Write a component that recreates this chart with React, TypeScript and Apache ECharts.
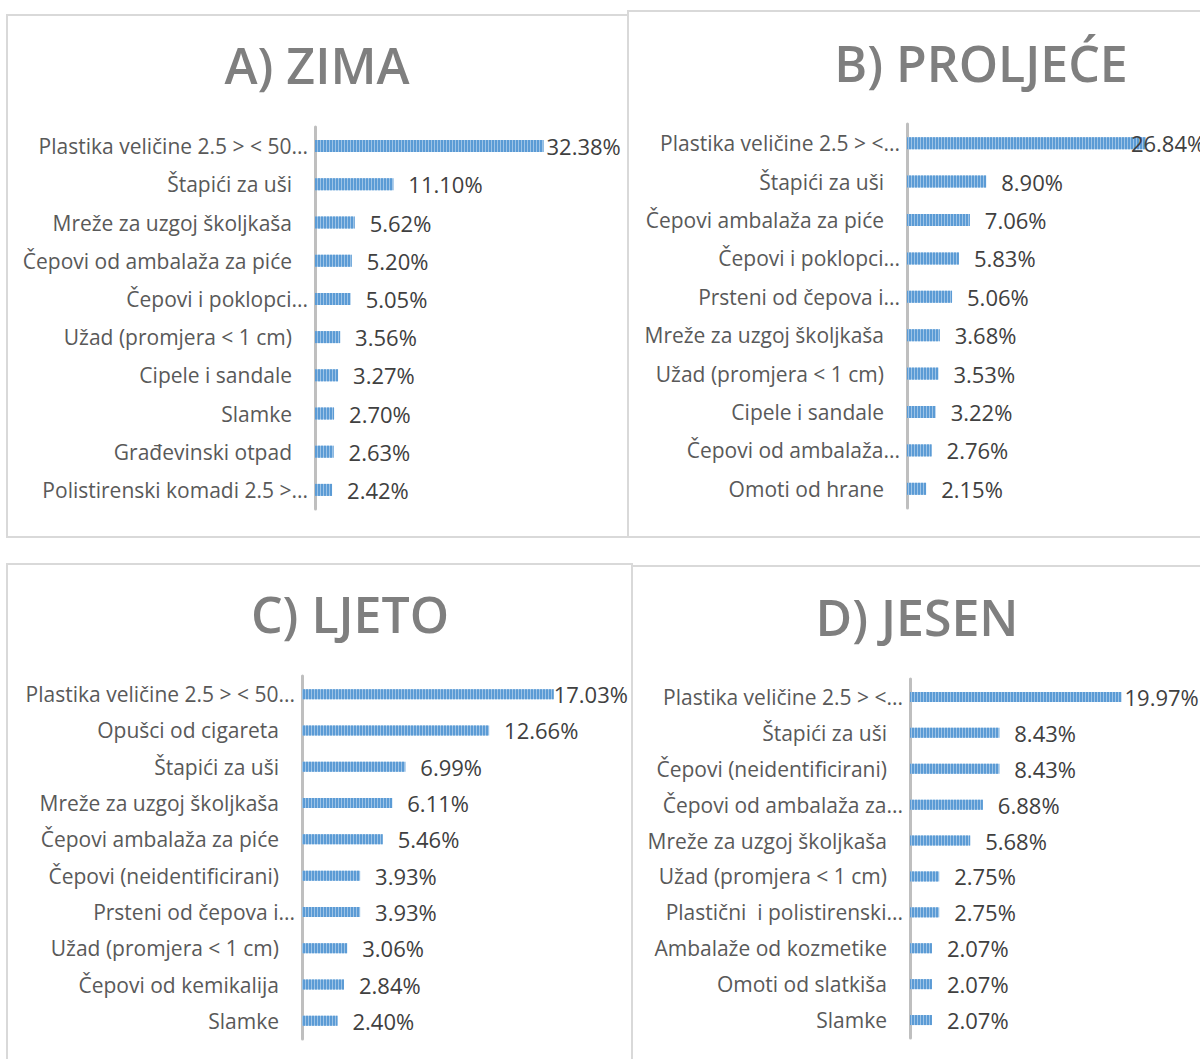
import React, { useEffect, useRef } from "react";
import * as echarts from "echarts";

const titles = ["A) ZIMA", "B) PROLJEĆE", "C) LJETO", "D) JESEN"];

const catsA = [
  "Plastika veličine 2.5 > < 50...",
  "Štapići za uši",
  "Mreže za uzgoj školjkaša",
  "Čepovi od ambalaža za piće",
  "Čepovi i poklopci...",
  "Užad (promjera < 1 cm)",
  "Cipele i sandale",
  "Slamke",
  "Građevinski otpad",
  "Polistirenski komadi 2.5 >...",
];
const valsA = [32.38, 11.1, 5.62, 5.2, 5.05, 3.56, 3.27, 2.7, 2.63, 2.42];

const catsB = [
  "Plastika veličine 2.5 > <...",
  "Štapići za uši",
  "Čepovi ambalaža za piće",
  "Čepovi i poklopci...",
  "Prsteni od čepova i...",
  "Mreže za uzgoj školjkaša",
  "Užad (promjera < 1 cm)",
  "Cipele i sandale",
  "Čepovi od ambalaža...",
  "Omoti od hrane",
];
const valsB = [26.84, 8.9, 7.06, 5.83, 5.06, 3.68, 3.53, 3.22, 2.76, 2.15];

const catsC = [
  "Plastika veličine 2.5 > < 50...",
  "Opušci od cigareta",
  "Štapići za uši",
  "Mreže za uzgoj školjkaša",
  "Čepovi ambalaža za piće",
  "Čepovi (neidentificirani)",
  "Prsteni od čepova i...",
  "Užad (promjera < 1 cm)",
  "Čepovi od kemikalija",
  "Slamke",
];
const valsC = [17.03, 12.66, 6.99, 6.11, 5.46, 3.93, 3.93, 3.06, 2.84, 2.4];

const catsD = [
  "Plastika veličine 2.5 > <...",
  "Štapići za uši",
  "Čepovi (neidentificirani)",
  "Čepovi od ambalaža za...",
  "Mreže za uzgoj školjkaša",
  "Užad (promjera < 1 cm)",
  "Plastični  i polistirenski...",
  "Ambalaže od kozmetike",
  "Omoti od slatkiša",
  "Slamke",
];
const valsD = [19.97, 8.43, 8.43, 6.88, 5.68, 2.75, 2.75, 2.07, 2.07, 2.07];

const FONT = "Open Sans";

export default function App() {
  const ref = useRef<HTMLDivElement>(null);
  useEffect(() => {
    if (!ref.current) return;
    const chart = echarts.init(ref.current, null, { renderer: "svg" });

    const panels = [
      { cats: catsA, vals: valsA, grid: { left: 315, top: 127, height: 382, width: 247 }, max: 35, bw: 12, firstDist: 3, title: { x: 317, y: 65 } },
      { cats: catsB, vals: valsB, grid: { left: 907, top: 124, height: 384, width: 267 }, max: 30, bw: 12, firstDist: -15, title: { x: 981, y: 63 } },
      { cats: catsC, vals: valsC, grid: { left: 302, top: 676, height: 363, width: 266 }, max: 18, bw: 10, firstDist: 0, title: { x: 350, y: 614 } },
      { cats: catsD, vals: valsD, grid: { left: 910, top: 679, height: 359, width: 233 }, max: 22, bw: 10, firstDist: 3, title: { x: 917, y: 617 } },
    ];

    const labelStyle = { color: "#595959", fontSize: 21, fontFamily: FONT };

    const option: any = {
      animation: false,
      backgroundColor: "#ffffff",
      grid: panels.map((p) => ({ ...p.grid, containLabel: false })),
      xAxis: panels.map((p, i) => ({
        type: "value",
        gridIndex: i,
        min: 0,
        max: p.max,
        show: false,
        splitLine: { show: false },
      })),
      yAxis: panels.map((p, i) => ({
        type: "category",
        gridIndex: i,
        inverse: true,
        data: p.cats,
        axisLine: { show: true, lineStyle: { color: "#bfbfbf", width: 3 } },
        axisTick: { show: false },
        splitLine: { show: false },
        axisLabel: {
          margin: 7,
          ...labelStyle,
          interval: 0,
          formatter: (v: string) => (v.endsWith("...") ? `{t|${v}}` : `{n|${v}}`),
          rich: {
            t: { ...labelStyle },
            n: { ...labelStyle, padding: [0, 16, 0, 0] },
          },
        },
      })),
      series: panels.map((p, i) => ({
        type: "bar",
        xAxisIndex: i,
        yAxisIndex: i,
        barWidth: p.bw,
        data: p.vals.map((v, j) =>
          j === 0 ? { value: v, label: { distance: p.firstDist } } : v
        ),
        itemStyle: {
          color: "#9dc3e6",
          decal: {
            symbol: "rect",
            symbolSize: 1,
            color: "#5b9bd5",
            dashArrayX: [2, 1],
            dashArrayY: [4, 0],
            rotation: 0,
          },
        },
        label: {
          show: true,
          position: "right",
          distance: 15,
          color: "#404040",
          fontSize: 22,
          fontFamily: FONT,
          formatter: (prm: any) => Number(prm.value).toFixed(2) + "%",
        },
      })),
      graphic: [
        { type: "rect", shape: { x: 7, y: 15, width: 621, height: 522 }, style: { fill: "none", stroke: "#d9d9d9", lineWidth: 2 }, silent: true },
        { type: "rect", shape: { x: 628, y: 11, width: 700, height: 526 }, style: { fill: "none", stroke: "#d9d9d9", lineWidth: 2 }, silent: true },
        { type: "rect", shape: { x: 7, y: 564, width: 625, height: 600 }, style: { fill: "none", stroke: "#d9d9d9", lineWidth: 2 }, silent: true },
        { type: "rect", shape: { x: 632, y: 566, width: 570, height: 600 }, style: { fill: "none", stroke: "#d9d9d9", lineWidth: 2 }, silent: true },
        ...panels.map((p, i) => ({
          type: "text",
          x: p.title.x,
          y: p.title.y,
          silent: true,
          style: {
            text: titles[i],
            fill: "#7f7f7f",
            fontSize: 50,
            fontWeight: 600,
            fontFamily: FONT,
            align: "center",
            verticalAlign: "middle",
          },
        })),
      ],
    };
    chart.setOption(option);
    return () => chart.dispose();
  }, []);
  return (
    <div
      ref={ref}
      style={{ position: "fixed", left: 0, top: 0, width: 1200, height: 1059, background: "#fff" }}
    />
  );
}
